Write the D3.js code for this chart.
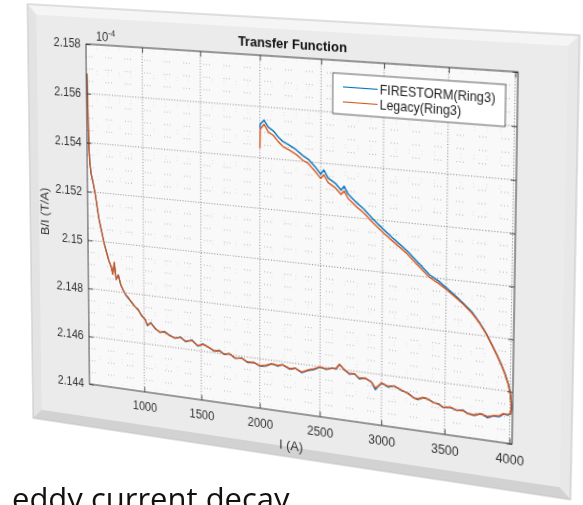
<!DOCTYPE html>
<html>
<head>
<meta charset="utf-8">
<style>
  body { margin: 0; background: #fff; width: 583px; height: 505px; overflow: hidden; position: relative; }
  #fig { position: absolute; left: 0; top: 0; transform-origin: 0 0; overflow: visible; }
  #cap { position: absolute; left: 0; top: 0; }
</style>
</head>
<body>
<svg id="fig"></svg>
<svg id="cap" width="583" height="505"></svg>

<script src="https://d3js.org/d3.v7.min.js"></script>
<script>
// data: current (A) and B/I (x 1e-4 T/A), upper branch then lower branch
var current = [2000,2003,2035,2070,2110,2150,2190,2240,2300,2350,2400,2450,2500,2525,2560,2620,2665,2690,2720,2780,
  2850,2920,3000,3090,3190,3280,3370,3440,3500,3560,3625,3700,3755,3810,3855,3900,3930,3960,3985,4000,4008,4012,
  4005,3980,3955,3920,3878,3830,3780,3730,3680,3640,3595,3540,3490,3450,3410,3370,3333,3290,3256,3210,
  3160,3100,3050,3000,2970,2950,2920,2870,2820,2780,2740,2700,2660,2630,2600,2550,2500,2450,2400,2350,
  2300,2250,2190,2150,2100,2050,2000,1950,1900,1850,1790,1740,1700,1655,1610,1560,1515,1470,1420,1365,
  1320,1270,1225,1180,1140,1100,1060,1030,1010,980,950,920,890,860,840,815,795,775,755,740,
  725,710,690,670,650,635,620,605,590,575,555,540,528,522,518,515,512,510];

var firestorm = [2.15515,2.15532,2.15548,2.15522,2.15510,2.15488,2.15471,2.15460,2.15443,2.15424,2.15410,2.15386,2.15357,2.15374,2.15344,2.15326,2.15302,2.15318,2.15290,2.15263,
  2.15236,2.15202,2.15168,2.15132,2.15094,2.15052,2.15010,2.14990,2.14968,2.14945,2.14919,2.14886,2.14852,2.14812,2.14771,2.14729,2.14699,2.14664,2.14628,2.14596,2.14564,2.14538,
  2.14514,2.14508,2.14512,2.14498,2.14499,2.14488,2.14500,2.14490,2.14493,2.14505,2.14500,2.14508,2.14504,2.14516,2.14518,2.14528,2.14532,2.14522,2.14526,2.14542,
  2.14548,2.14562,2.14555,2.14567,2.14550,2.14538,2.14565,2.14578,2.14572,2.14590,2.14585,2.14600,2.14619,2.14598,2.14600,2.14592,2.14598,2.14585,2.14578,2.14566,
  2.14580,2.14574,2.14588,2.14580,2.14586,2.14574,2.14570,2.14582,2.14578,2.14592,2.14589,2.14604,2.14598,2.14612,2.14606,2.14620,2.14630,2.14618,2.14640,2.14630,
  2.14646,2.14638,2.14648,2.14660,2.14654,2.14668,2.14690,2.14675,2.14700,2.14715,2.14735,2.14748,2.14765,2.14780,2.14790,2.14812,2.14830,2.14870,2.14850,2.14918,
  2.14872,2.14900,2.14925,2.14960,2.14995,2.15028,2.15060,2.15093,2.15140,2.15190,2.15240,2.15271,2.15320,2.15380,2.15460,2.15560,2.15640,2.15681];

var legacy = [2.15437,2.15512,2.15532,2.15504,2.15492,2.15470,2.15452,2.15440,2.15425,2.15406,2.15393,2.15368,2.15340,2.15355,2.15327,2.15308,2.15285,2.15300,2.15273,2.15247,
  2.15221,2.15188,2.15154,2.15120,2.15083,2.15041,2.15000,2.14981,2.14961,2.14940,2.14915,2.14882,2.14850,2.14810,2.14770,2.14728,2.14697,2.14662,2.14626,2.14593,2.14562,2.14540,
  2.14516,2.14510,2.14512,2.14502,2.14499,2.14492,2.14500,2.14492,2.14493,2.14503,2.14500,2.14510,2.14504,2.14514,2.14518,2.14528,2.14532,2.14525,2.14526,2.14540,
  2.14550,2.14562,2.14558,2.14567,2.14552,2.14544,2.14565,2.14578,2.14575,2.14590,2.14588,2.14600,2.14619,2.14600,2.14600,2.14594,2.14598,2.14588,2.14580,2.14568,
  2.14580,2.14576,2.14588,2.14582,2.14586,2.14576,2.14572,2.14582,2.14580,2.14592,2.14590,2.14604,2.14600,2.14610,2.14608,2.14620,2.14628,2.14620,2.14638,2.14632,
  2.14644,2.14640,2.14646,2.14658,2.14656,2.14666,2.14688,2.14678,2.14700,2.14712,2.14738,2.14748,2.14762,2.14784,2.14792,2.14810,2.14832,2.14868,2.14852,2.14920,
  2.14870,2.14902,2.14925,2.14960,2.14995,2.15028,2.15060,2.15093,2.15140,2.15190,2.15240,2.15271,2.15320,2.15380,2.15460,2.15560,2.15640,2.15681];

var xTicks = [1000, 1500, 2000, 2500, 3000, 3500, 4000];
var yTicks = [2.144, 2.146, 2.148, 2.150, 2.152, 2.154, 2.156, 2.158];
var seriesNames = ["FIRESTORM(Ring3)", "Legacy(Ring3)"];
var seriesColors = ["#0072BD", "#D95319"];

// flat (unprojected) figure layout
var ox = 100, oy = 70;                 // axes origin inside the svg
var width = 434, height = 342;         // axes size
var mLeft = 65, mRight = 55, mTop = 36, mBottom = 44;   // figure panel around the axes

var svg = d3.select("#fig").attr("width", 700).attr("height", 560);

// where the axes corners land in the photo (perspective)
var dstCorners = [[86, 44], [518, 72], [512, 444], [89.5, 384]];
var srcCorners = [[ox, oy], [ox + width, oy], [ox + width, oy + height], [ox, oy + height]];

function homography(src, dst) {
  var A = [], b = [];
  for (var i = 0; i < 4; i++) {
    var x = src[i][0], y = src[i][1], u = dst[i][0], v = dst[i][1];
    A.push([x, y, 1, 0, 0, 0, -u * x, -u * y]); b.push(u);
    A.push([0, 0, 0, x, y, 1, -v * x, -v * y]); b.push(v);
  }
  for (var c = 0; c < 8; c++) {
    var p = c;
    for (var r = c + 1; r < 8; r++) if (Math.abs(A[r][c]) > Math.abs(A[p][c])) p = r;
    var t = A[c]; A[c] = A[p]; A[p] = t;
    var tb = b[c]; b[c] = b[p]; b[p] = tb;
    for (var r2 = c + 1; r2 < 8; r2++) {
      var f = A[r2][c] / A[c][c];
      for (var k = c; k < 8; k++) A[r2][k] -= f * A[c][k];
      b[r2] -= f * b[c];
    }
  }
  var h = new Array(8);
  for (var r3 = 7; r3 >= 0; r3--) {
    var s = b[r3];
    for (var k2 = r3 + 1; k2 < 8; k2++) s -= A[r3][k2] * h[k2];
    h[r3] = s / A[r3][r3];
  }
  return h;
}

var h = homography(srcCorners, dstCorners);
svg.style("transform", "matrix3d(" + [h[0], h[3], 0, h[6], h[1], h[4], 0, h[7], 0, 0, 1, 0, h[2], h[5], 0, 1].join(",") + ")");

// figure panel with a bevelled frame
var x0 = ox - mLeft, y0 = oy - mTop, x1 = ox + width + mRight, y1 = oy + height + mBottom, bv = 10;
var panel = svg.append("g");
function poly(pts, fill) {
  panel.append("polygon").attr("points", pts.map(function(p) { return p.join(","); }).join(" ")).attr("fill", fill);
}
poly([[x0, y0], [x1, y0], [x1, y1], [x0, y1]], "#ebebeb");
poly([[x0, y0], [x1, y0], [x1 - bv, y0 + bv], [x0 + bv, y0 + bv]], "#f5f5f5");
poly([[x0, y0], [x0 + bv, y0 + bv], [x0 + bv, y1 - bv], [x0, y1]], "#e3e3e3");
poly([[x1, y0], [x1, y1], [x1 - bv, y1 - bv], [x1 - bv, y0 + bv]], "#e8e8e8");
poly([[x0, y1], [x1, y1], [x1 - bv, y1 - bv], [x0 + bv, y1 - bv]], "#d2d2d2");
panel.append("rect").attr("x", x0).attr("y", y0).attr("width", x1 - x0).attr("height", y1 - y0)
  .attr("fill", "none").attr("stroke", "#c4c4c4").attr("stroke-width", 1);

var g = svg.append("g").attr("transform", "translate(" + ox + "," + oy + ")");

var x = d3.scaleLinear().domain([505, 4020]).range([0, width]);
var y = d3.scaleLinear().domain([2.144, 2.158]).range([height, 0]);

g.append("rect").attr("width", width).attr("height", height).attr("fill", "#f9f9f9");

// minor grid
var xMinor = d3.range(6, 41).filter(function(i) { return i % 5 !== 0; }).map(function(i) { return i * 100; });
var yMinor = d3.range(1, 28).filter(function(i) { return i % 4 !== 0; }).map(function(i) { return 2.144 + i * 0.0005; });
g.selectAll(".xminor").data(xMinor).join("line")
  .attr("x1", function(d) { return x(d); }).attr("x2", function(d) { return x(d); })
  .attr("y1", 0).attr("y2", height)
  .attr("stroke", "#d4d4d4").attr("stroke-width", 0.6).attr("stroke-dasharray", "1,2,1,22");
g.selectAll(".yminor").data(yMinor).join("line")
  .attr("x1", 0).attr("x2", width)
  .attr("y1", function(d) { return y(d); }).attr("y2", function(d) { return y(d); })
  .attr("stroke", "#acacac").attr("stroke-width", 0.8).attr("stroke-dasharray", "1,2,1,2,1,14");

// major grid
g.selectAll(".xgrid").data(xTicks).join("line")
  .attr("x1", function(d) { return x(d); }).attr("x2", function(d) { return x(d); })
  .attr("y1", 0).attr("y2", height)
  .attr("stroke", "#7a7a7a").attr("stroke-width", 0.9).attr("stroke-dasharray", "1,1.8");
g.selectAll(".ygrid").data(yTicks.slice(1, -1)).join("line")
  .attr("x1", 0).attr("x2", width)
  .attr("y1", function(d) { return y(d); }).attr("y2", function(d) { return y(d); })
  .attr("stroke", "#7a7a7a").attr("stroke-width", 0.9).attr("stroke-dasharray", "1,1.8");

// the two series
var line = d3.line()
  .x(function(d, i) { return x(current[i]); })
  .y(function(d) { return y(d); });
[firestorm, legacy].forEach(function(s, k) {
  g.append("path").datum(s).attr("d", line)
    .attr("fill", "none").attr("stroke", seriesColors[k]).attr("stroke-width", 1.4)
    .attr("stroke-linejoin", "round");
});

// axes (ticks inward on all sides)
var font = "'Liberation Sans', Arial, sans-serif";
var fmt = function(d) { return String(+d.toFixed(3)); };
var axB = g.append("g").attr("transform", "translate(0," + height + ")")
  .call(d3.axisBottom(x).tickValues(xTicks).tickFormat(d3.format("d")).tickSize(-5).tickPadding(10));
var axL = g.append("g")
  .call(d3.axisLeft(y).tickValues(yTicks).tickFormat(fmt).tickSize(-5).tickPadding(6));
var axT = g.append("g").call(d3.axisTop(x).tickValues(xTicks).tickSize(-5).tickFormat(""));
var axR = g.append("g").attr("transform", "translate(" + width + ",0)")
  .call(d3.axisRight(y).tickValues(yTicks).tickSize(-5).tickFormat(""));
[axB, axL, axT, axR].forEach(function(a) {
  a.select(".domain").remove();
  a.selectAll("line").attr("stroke", "#333").attr("stroke-width", 0.8);
  a.selectAll("text").attr("fill", "#333").style("font-family", font).style("font-size", "12px");
});

g.append("rect").attr("width", width).attr("height", height)
  .attr("fill", "none").attr("stroke", "#2a2a2a").attr("stroke-width", 0.9);

// exponent
var ex = g.append("text").attr("x", 11).attr("y", -4)
  .style("font-family", font).style("font-size", "12px").attr("fill", "#333").text("10");
ex.append("tspan").attr("dy", -5).style("font-size", "9px").text("-4");

// title and axis labels
g.append("text").attr("x", width / 2).attr("y", -8).attr("text-anchor", "middle")
  .style("font-family", font).style("font-size", "13px").style("font-weight", "bold").attr("fill", "#111")
  .text("Transfer Function");
g.append("text").attr("x", width / 2).attr("y", height + 37).attr("text-anchor", "middle")
  .style("font-family", font).style("font-size", "13px").attr("fill", "#333").text("I (A)");
g.append("text").attr("transform", "translate(-44," + height / 2 + ") rotate(-90)").attr("text-anchor", "middle")
  .style("font-family", font).style("font-size", "13px").attr("fill", "#333").text("B/I (T/A)");

// legend
var lw = 165, lh = 38;
var lg = g.append("g").attr("transform", "translate(" + (width - 11 - lw) + ",12)");
lg.append("rect").attr("width", lw).attr("height", lh).attr("fill", "#fff").attr("stroke", "#444").attr("stroke-width", 0.8);
seriesNames.forEach(function(n, k) {
  var yy = 12.5 + k * 14;
  lg.append("line").attr("x1", 10).attr("x2", 44).attr("y1", yy).attr("y2", yy)
    .attr("stroke", seriesColors[k]).attr("stroke-width", 1.2);
  lg.append("text").attr("x", 46).attr("y", yy + 4.5)
    .style("font-family", font).style("font-size", "12px").attr("fill", "#222").text(n);
});

// caption under the figure
d3.select("#cap").append("text").attr("x", 12).attr("y", 510)
  .style("font-family", "'Open Sans', 'Noto Sans', sans-serif").style("font-size", "31px").attr("fill", "#111")
  .text("eddy current decay");
</script>
</body>
</html>
